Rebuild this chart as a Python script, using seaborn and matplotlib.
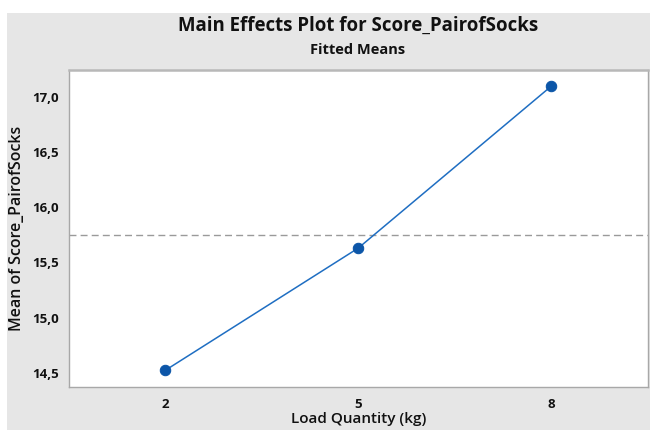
import matplotlib
matplotlib.use("Agg")
import matplotlib.pyplot as plt
import matplotlib.ticker as mticker
from matplotlib.patches import Rectangle
import seaborn as sns
import pandas as pd

load_qty = [2, 5, 8]
fitted_means = [14.52, 15.63, 17.10]
x_ticks = [2, 5, 8]
y_ticks = [14.5, 15.0, 15.5, 16.0, 16.5, 17.0]

sns.set_theme(style="white")
plt.rcParams['font.family'] = ['Open Sans', 'DejaVu Sans']

df = pd.DataFrame({"Load Quantity (kg)": load_qty, "Mean": fitted_means})

fig = plt.figure(figsize=(6.5, 4.3), dpi=100)
fig.patch.set_facecolor("white")
fig.patches.append(Rectangle((7 / 650, 0), 1, 1 - 13 / 430, transform=fig.transFigure,
                             facecolor="#e6e6e6", edgecolor="none", zorder=-10))
ax = fig.add_axes([68.5 / 650, 1 - 387 / 430, (648 - 68.5) / 650, (387 - 69.5) / 430])
ax.set_facecolor("white")

sns.lineplot(data=df, x="Load Quantity (kg)", y="Mean", ax=ax, color="#1f6ec2",
             linewidth=1.1, marker="o", markersize=7.5, markerfacecolor="#0c56a8",
             markeredgecolor="#0c56a8")
ax.axhline(sum(fitted_means) / len(fitted_means), color="#9a9a9a", linestyle=(0, (5, 3)),
           linewidth=1.0, zorder=0)

ax.set_xlim(0.5, 9.5)
ax.set_ylim(14.37, 17.25)
ax.set_xticks(x_ticks)
ax.set_yticks(y_ticks)
ax.yaxis.set_major_formatter(mticker.FuncFormatter(lambda v, p: f"{v:.1f}".replace(".", ",")))
ax.tick_params(axis="both", which="major", length=4, width=0.8, color="#9a9a9a",
               labelsize=9.5, labelcolor="#111111", direction="out", pad=3)
ax.tick_params(axis="x", pad=4)
for lab in ax.get_xticklabels() + ax.get_yticklabels():
    lab.set_fontweight("bold")

for name, sp in ax.spines.items():
    sp.set_color("#a8a8a8")
    sp.set_linewidth(1.0)
ax.spines["top"].set_linewidth(1.8)
ax.spines["top"].set_color("#b8b8b8")

ax.set_xlabel("Load Quantity (kg)", fontsize=11, fontweight="semibold", color="#111111", labelpad=1)
ax.set_ylabel("Mean of Score_PairofSocks", fontsize=11.5, fontweight="semibold", color="#111111", labelpad=5)

fig.text(358 / 650, 1 - 26 / 430, "Main Effects Plot for Score_PairofSocks", ha="center", va="center",
         fontsize=13.4, fontweight="bold", color="#111111")
fig.text(358 / 650, 1 - 50 / 430, "Fitted Means", ha="center", va="center",
         fontsize=10.5, fontweight="bold", color="#111111")

fig.savefig("out.png", dpi=100)
